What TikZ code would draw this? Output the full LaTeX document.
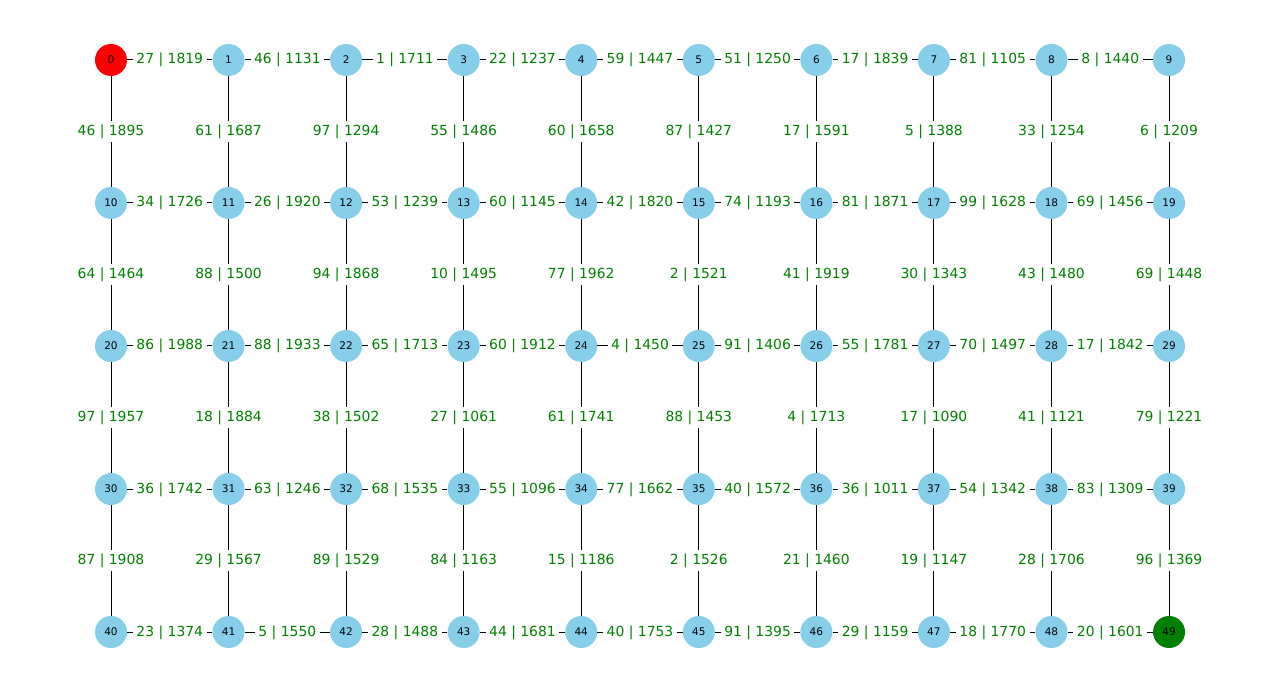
\documentclass[tikz,border=0pt]{standalone}
\usepackage{fontspec}
\setmainfont{DejaVu Sans}
\definecolor{skyblue}{RGB}{135,206,235}
\definecolor{lblgreen}{RGB}{0,128,0}
\begin{document}
\begin{tikzpicture}[x=1pt,y=-1pt,
  vtx/.style={circle,minimum size=32pt,inner sep=0pt,font=\fontsize{10.5}{10.5}\selectfont},
  lbl/.style={fill=white,text=lblgreen,inner xsep=3.5pt,inner ysep=4pt,text height=10.5pt,text depth=2.5pt,font=\fontsize{13.9}{14}\selectfont},
  edge/.style={draw=black,line width=1pt}]
\useasboundingbox[fill=white] (0,0) rectangle (1280,692);
\foreach \r in {0,...,4} {
  \foreach \c in {0,...,9} {
    \pgfmathtruncatemacro\n{\r*10+\c}
    \ifnum\n=0 \def\fc{red}\else\ifnum\n=49 \def\fc{lblgreen}\else\def\fc{skyblue}\fi\fi
    \node[vtx,fill=\fc] (n\n) at ({111+\c*117.56},{60+\r*143}) {\n};
  }
}
% horizontal edges
\foreach \a/\b/\t in {0/1/27 | 1819, 1/2/46 | 1131, 2/3/1 | 1711, 3/4/22 | 1237, 4/5/59 | 1447, 5/6/51 | 1250, 6/7/17 | 1839, 7/8/81 | 1105, 8/9/8 | 1440,
  10/11/34 | 1726, 11/12/26 | 1920, 12/13/53 | 1239, 13/14/60 | 1145, 14/15/42 | 1820, 15/16/74 | 1193, 16/17/81 | 1871, 17/18/99 | 1628, 18/19/69 | 1456,
  20/21/86 | 1988, 21/22/88 | 1933, 22/23/65 | 1713, 23/24/60 | 1912, 24/25/4 | 1450, 25/26/91 | 1406, 26/27/55 | 1781, 27/28/70 | 1497, 28/29/17 | 1842,
  30/31/36 | 1742, 31/32/63 | 1246, 32/33/68 | 1535, 33/34/55 | 1096, 34/35/77 | 1662, 35/36/40 | 1572, 36/37/36 | 1011, 37/38/54 | 1342, 38/39/83 | 1309,
  40/41/23 | 1374, 41/42/5 | 1550, 42/43/28 | 1488, 43/44/44 | 1681, 44/45/40 | 1753, 45/46/91 | 1395, 46/47/29 | 1159, 47/48/18 | 1770, 48/49/20 | 1601}
  \draw[edge] (n\a) -- node[lbl]{\t} (n\b);
% vertical edges
\foreach \a/\b/\t in {0/10/46 | 1895, 1/11/61 | 1687, 2/12/97 | 1294, 3/13/55 | 1486, 4/14/60 | 1658, 5/15/87 | 1427, 6/16/17 | 1591, 7/17/5 | 1388, 8/18/33 | 1254, 9/19/6 | 1209,
  10/20/64 | 1464, 11/21/88 | 1500, 12/22/94 | 1868, 13/23/10 | 1495, 14/24/77 | 1962, 15/25/2 | 1521, 16/26/41 | 1919, 17/27/30 | 1343, 18/28/43 | 1480, 19/29/69 | 1448,
  20/30/97 | 1957, 21/31/18 | 1884, 22/32/38 | 1502, 23/33/27 | 1061, 24/34/61 | 1741, 25/35/88 | 1453, 26/36/4 | 1713, 27/37/17 | 1090, 28/38/41 | 1121, 29/39/79 | 1221,
  30/40/87 | 1908, 31/41/29 | 1567, 32/42/89 | 1529, 33/43/84 | 1163, 34/44/15 | 1186, 35/45/2 | 1526, 36/46/21 | 1460, 37/47/19 | 1147, 38/48/28 | 1706, 39/49/96 | 1369}
  \draw[edge] (n\a) -- node[lbl]{\t} (n\b);
\end{tikzpicture}
\end{document}
